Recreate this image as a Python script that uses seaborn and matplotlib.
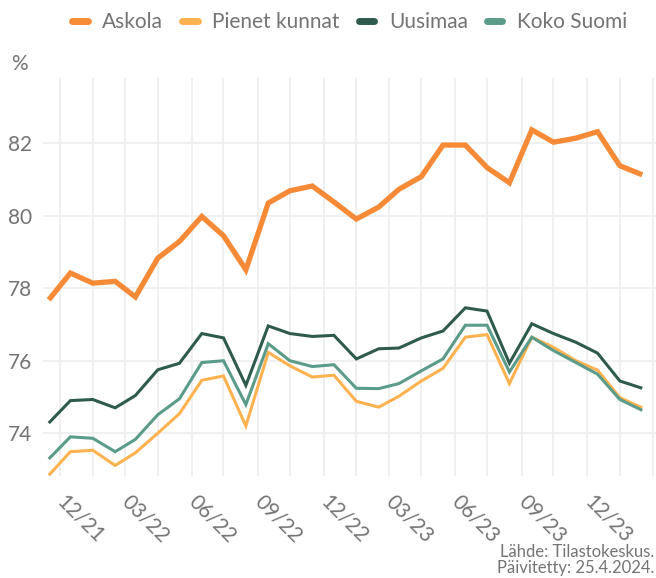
import pandas as pd
import seaborn as sns
import matplotlib.pyplot as plt
import matplotlib.dates as mdates
from matplotlib.lines import Line2D
from matplotlib.ticker import FuncFormatter

# kuukausittaiset arvot 11/21 - 02/24
kuukaudet = pd.date_range("2021-11-01", periods=28, freq="MS") + pd.Timedelta(days=14)

askola = [77.68, 78.42, 78.14, 78.19, 77.76, 78.83, 79.29, 79.98, 79.45, 78.51,
          80.35, 80.69, 80.82, 80.38, 79.91, 80.24, 80.73, 81.08, 81.95, 81.95,
          81.33, 80.91, 82.37, 82.03, 82.14, 82.32, 81.38, 81.13]
pienet_kunnat = [72.84, 73.49, 73.53, 73.11, 73.46, 74.00, 74.54, 75.46, 75.58, 74.20,
                 76.23, 75.86, 75.55, 75.60, 74.88, 74.72, 75.02, 75.44, 75.79, 76.65,
                 76.72, 75.37, 76.65, 76.37, 76.00, 75.74, 74.98, 74.70]
uusimaa = [74.28, 74.90, 74.93, 74.70, 75.04, 75.75, 75.93, 76.75, 76.63, 75.32,
           76.96, 76.75, 76.67, 76.70, 76.05, 76.33, 76.35, 76.63, 76.82, 77.46,
           77.37, 75.93, 77.02, 76.75, 76.51, 76.21, 75.44, 75.24]
koko_suomi = [73.29, 73.90, 73.86, 73.49, 73.83, 74.51, 74.95, 75.95, 76.00, 74.79,
              76.47, 76.00, 75.84, 75.89, 75.24, 75.23, 75.37, 75.72, 76.05, 76.98,
              76.98, 75.69, 76.65, 76.28, 75.95, 75.63, 74.93, 74.63]

sarjat = ["Askola", "Pienet kunnat", "Uusimaa", "Koko Suomi"]
varit = {"Askola": "#f68a37", "Pienet kunnat": "#ffb24f",
         "Uusimaa": "#2e5b4d", "Koko Suomi": "#5a9b8a"}
paksuus = {"Askola": 3.8, "Pienet kunnat": 2.2, "Uusimaa": 2.2, "Koko Suomi": 2.2}

df = pd.DataFrame({"aika": list(kuukaudet) * 4,
                   "arvo": askola + pienet_kunnat + uusimaa + koko_suomi,
                   "sarja": [s for s in sarjat for _ in range(28)]})

sns.set_style("white")
plt.rcParams["font.family"] = ["Lato", "DejaVu Sans"]
harmaa = "#747474"

fig = plt.figure(figsize=(6.56, 5.78), dpi=100)
ax = fig.add_axes([0.0655, 0.1765, 0.9345, 0.6885])

sns.lineplot(data=df, x="aika", y="arvo", hue="sarja", hue_order=sarjat,
             palette=varit, size="sarja", sizes=paksuus, size_order=sarjat,
             legend=False, ax=ax)
for l in ax.lines:
    l.set_solid_joinstyle("miter")
    l.set_solid_capstyle("butt")

ax.set_xlim(pd.Timestamp("2021-11-07"), pd.Timestamp("2024-03-05"))
ax.set_ylim(72.82, 83.8)
ax.set_yticks([74, 76, 78, 80, 82])

# 03/24 jää ilman tekstiä, viiva näkyy
def kk_teksti(x, pos):
    d = mdates.num2date(x)
    if d.year >= 2024:
        return ""
    return d.strftime("%m/%y")

ax.xaxis.set_major_locator(mdates.MonthLocator(bymonth=[3, 6, 9, 12]))
ax.xaxis.set_major_formatter(FuncFormatter(kk_teksti))
ax.xaxis.set_minor_locator(mdates.MonthLocator(bymonth=[1, 4, 7, 10], bymonthday=15))

ax.grid(True, which="both", axis="x", color="#efefef", lw=1.3)
ax.grid(True, which="major", axis="y", color="#efefef", lw=1.3)
ax.set_axisbelow(True)
for s in ax.spines.values():
    s.set_visible(False)

ax.tick_params(axis="both", which="both", length=0)
ax.tick_params(axis="y", labelsize=15, labelcolor=harmaa, pad=8)
ax.tick_params(axis="x", labelsize=15, labelcolor=harmaa, pad=16)
for t in ax.get_xticklabels():
    t.set_rotation(-45)
    t.set_ha("left")
    t.set_va("center")
    t.set_rotation_mode("anchor")

ax.set_xlabel("")
ax.set_ylabel("")
fig.text(0.017, 0.89, "%", fontsize=15, color=harmaa, va="center")

kahvat = [Line2D([0], [0], color=varit[s], lw=5) for s in sarjat]
ax.legend(kahvat, sarjat, loc="center", bbox_to_anchor=(0.5, 1.14), ncol=4,
          frameon=False, handlelength=0.75, handletextpad=0.7, columnspacing=0.9,
          prop={"size": 15}, labelcolor=harmaa)

fig.text(0.998, 0.004, "Lähde: Tilastokeskus.\nPäivitetty: 25.4.2024.", ha="right",
         va="bottom", fontsize=12, color=harmaa, linespacing=1.0)

fig.savefig("out.png", dpi=100)
